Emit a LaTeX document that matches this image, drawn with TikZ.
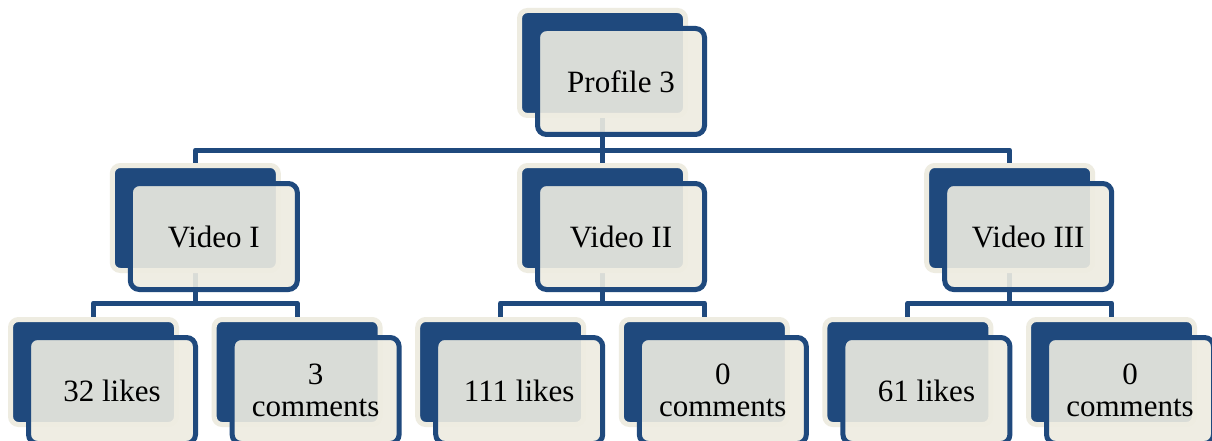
\documentclass[tikz,border=0pt]{standalone}
\usepackage{fontspec}
\setmainfont{Liberation Serif}
\pgfdeclarelayer{bg}
\pgfsetlayers{bg,main}
\definecolor{hblue}{HTML}{1F497D}
\definecolor{hcream}{HTML}{EEECE1}
\tikzset{
  backbox/.style={draw=hcream, fill=hblue, line width=5pt, rounded corners=8pt,
    minimum width=166pt, minimum height=105pt, inner sep=0pt},
  frontbox/.style={draw=hblue, fill=hcream, fill opacity=0.9, text opacity=1,
    line width=5pt, rounded corners=9pt, minimum width=167pt, minimum height=106pt,
    inner sep=0pt, align=center, font=\fontsize{31}{32}\selectfont},
  link/.style={draw=hblue, line width=5pt, line join=round}
}
% one hierarchy entry: a dark back card and a translucent front card with the text
\newcommand\orgunit[4]{%
  \node[backbox] (#1b) at (#2,#3) {};
  \node[frontbox] (#1) at ([shift={(18.5,18.5)}]#2,#3) {#4};
}
\begin{document}
\begin{tikzpicture}[x=1pt,y=-1pt]
\useasboundingbox (0,0) rectangle (1212,441);
\clip (0,0) rectangle (1212,441);

\orgunit{p}{602.5}{63}{Profile 3}

\orgunit{va}{195.3}{218}{Video I}
\orgunit{vb}{602.5}{218}{Video II}
\orgunit{vc}{1009.7}{218}{Video III}

\orgunit{la}{93.5}{372}{32 likes}
\orgunit{ca}{297.1}{372}{3\\comments}
\orgunit{lb}{500.7}{372}{111 likes}
\orgunit{cb}{704.3}{372}{0\\comments}
\orgunit{lc}{907.9}{372}{61 likes}
\orgunit{cc}{1111.5}{372}{0\\comments}

\coordinate (bar1) at (0,150);
\coordinate (bar2) at (0,303);
\begin{pgfonlayer}{bg}
  \fill[white] (0,0) rectangle (1212,441);
  \draw[link] (pb.south) -- (pb.south |- bar1) -| (vab.north);
  \draw[link] (pb.south |- bar1) -| (vcb.north);
  \draw[link] (pb.south) -- (vbb.north);
  \draw[link] (vab.south) -- (vab.south |- bar2) -| (lab.north);
  \draw[link] (vab.south |- bar2) -| (cab.north);
  \draw[link] (vbb.south) -- (vbb.south |- bar2) -| (lbb.north);
  \draw[link] (vbb.south |- bar2) -| (cbb.north);
  \draw[link] (vcb.south) -- (vcb.south |- bar2) -| (lcb.north);
  \draw[link] (vcb.south |- bar2) -| (ccb.north);
\end{pgfonlayer}
\end{tikzpicture}
\end{document}
